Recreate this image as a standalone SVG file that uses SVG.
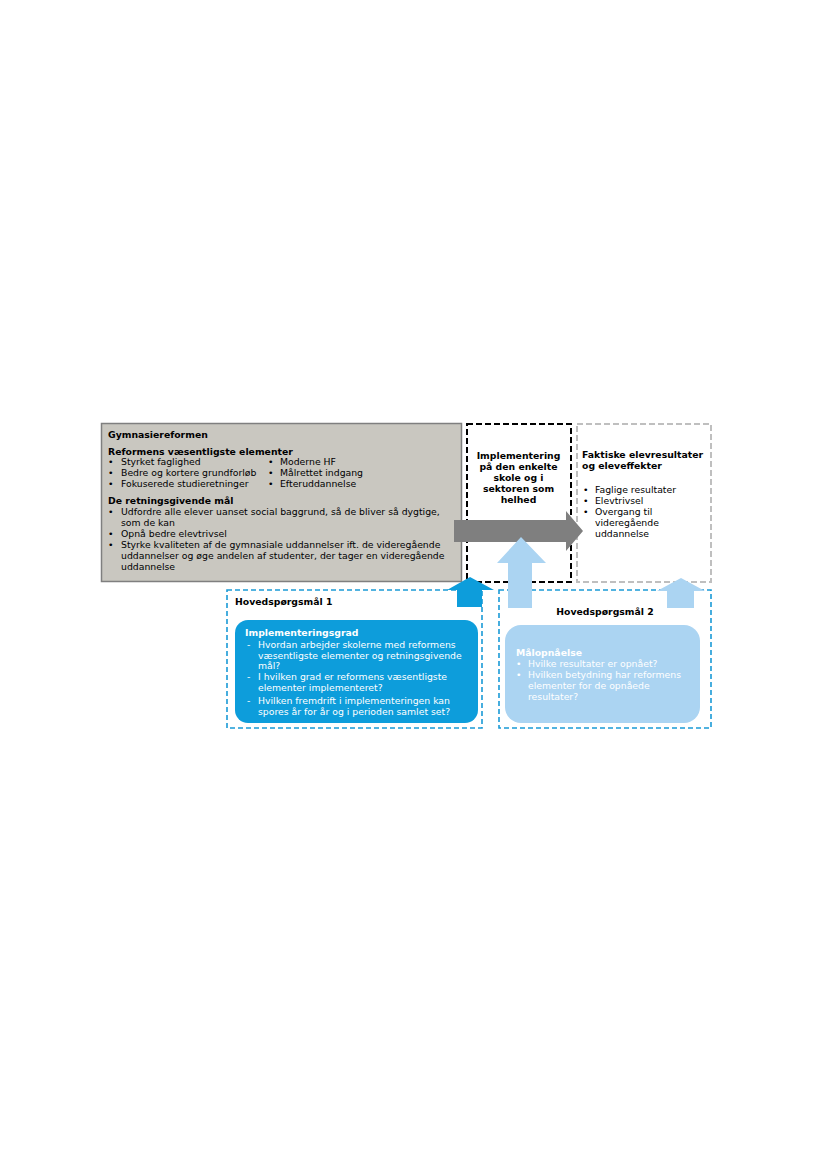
<svg xmlns="http://www.w3.org/2000/svg" width="827" height="1169" viewBox="0 0 827 1169">
<style>
text{font-family:"DejaVu Sans",Verdana,sans-serif;font-size:9.3px;fill:#000}
.b{font-weight:bold}
.w{fill:#fff}
.c{text-anchor:middle}
</style>
<rect width="827" height="1169" fill="#fff"/>
<g id="reform">
<rect x="101.5" y="423.5" width="360" height="158" fill="#c9c7c0" stroke="#7f7f7f" stroke-width="1.5"/>
<text x="108" y="438" class="b">Gymnasiereformen</text>
<text x="108" y="455" class="b">Reformens væsentligste elementer</text>
<text x="108" y="465">•</text><text x="121" y="465">Styrket faglighed</text>
<text x="108" y="476">•</text><text x="121" y="476">Bedre og kortere grundforløb</text>
<text x="108" y="487">•</text><text x="121" y="487">Fokuserede studieretninger</text>
<text x="268" y="465">•</text><text x="280" y="465">Moderne HF</text>
<text x="268" y="476">•</text><text x="280" y="476">Målrettet indgang</text>
<text x="268" y="487">•</text><text x="280" y="487">Efteruddannelse</text>
<text x="108" y="504" class="b">De retningsgivende mål</text>
<text x="108" y="515">•</text><text x="121" y="515">Udfordre alle elever uanset social baggrund, så de bliver så dygtige,</text>
<text x="121" y="526">som de kan</text>
<text x="108" y="537">•</text><text x="121" y="537">Opnå bedre elevtrivsel</text>
<text x="108" y="548">•</text><text x="121" y="548">Styrke kvaliteten af de gymnasiale uddannelser ift. de videregående</text>
<text x="121" y="559">uddannelser og øge andelen af studenter, der tager en videregående</text>
<text x="121" y="570">uddannelse</text>
</g>
<g id="implementering">
<rect x="467" y="424" width="104" height="158" fill="#fff" stroke="#000" stroke-width="2" stroke-dasharray="6 3"/>
<text x="518.5" y="459" class="b c">Implementering</text>
<text x="518.5" y="470" class="b c">på den enkelte</text>
<text x="518.5" y="481" class="b c">skole og i</text>
<text x="518.5" y="492" class="b c">sektoren som</text>
<text x="518.5" y="503" class="b c">helhed</text>
</g>
<g id="resultater">
<rect x="577" y="424" width="134" height="158" fill="#fff" stroke="#bfbfbf" stroke-width="2" stroke-dasharray="6 3"/>
<text x="582" y="458" class="b">Faktiske elevresultater</text>
<text x="582" y="469" class="b">og eleveffekter</text>
<text x="583" y="493">•</text><text x="595" y="493">Faglige resultater</text>
<text x="583" y="504">•</text><text x="595" y="504">Elevtrivsel</text>
<text x="583" y="515">•</text><text x="595" y="515">Overgang til</text>
<text x="595" y="526">videregående</text>
<text x="595" y="537">uddannelse</text>
</g>
<g id="hoved1">
<rect x="227" y="590" width="255" height="138" fill="none" stroke="#1a9ad6" stroke-width="1.6" stroke-dasharray="5 3"/>
<text x="235" y="605" class="b">Hovedspørgsmål 1</text>
<rect x="235" y="620" width="243" height="103" rx="13" fill="#0d9ddb"/>
<text x="245" y="636" class="b w">Implementeringsgrad</text>
<text x="247" y="648" class="w">-</text><text x="258" y="648" class="w">Hvordan arbejder skolerne med reformens</text>
<text x="258" y="659" class="w">væsentligste elementer og retningsgivende</text>
<text x="258" y="669" class="w">mål?</text>
<text x="247" y="680" class="w">-</text><text x="258" y="680" class="w">I hvilken grad er reformens væsentligste</text>
<text x="258" y="691" class="w">elementer implementeret?</text>
<text x="247" y="704" class="w">-</text><text x="258" y="704" class="w">Hvilken fremdrift i implementeringen kan</text>
<text x="258" y="715" class="w">spores år for år og i perioden samlet set?</text>
</g>
<g id="hoved2">
<rect x="499" y="590" width="212" height="138" fill="none" stroke="#1a9ad6" stroke-width="1.6" stroke-dasharray="5 3"/>
<text x="605" y="615" class="b c">Hovedspørgsmål 2</text>
<rect x="505" y="625" width="195" height="98" rx="16" fill="#abd4f2"/>
<text x="516" y="656" class="b w">Målopnåelse</text>
<text x="516" y="667" class="w">•</text><text x="528" y="667" class="w">Hvilke resultater er opnået?</text>
<text x="516" y="678" class="w">•</text><text x="528" y="678" class="w">Hvilken betydning har reformens</text>
<text x="528" y="689" class="w">elementer for de opnåede</text>
<text x="528" y="700" class="w">resultater?</text>
</g>
<g id="connectors">
<polygon points="454,520 566,520 566,511 583,531 566,551 566,542 454,542" fill="#7f7f7f"/>
<polygon points="508,608 508,563 497,563 521,537 546,563 532,563 532,608" fill="#abd4f2"/>
<polygon points="457,607 457,590 447,590 470,577 494,590 482,590 482,607" fill="#0d9ddb"/>
<polygon points="667,608 667,591 657,591 681,578 705,591 694,591 694,608" fill="#abd4f2"/>
</g>
</svg>
